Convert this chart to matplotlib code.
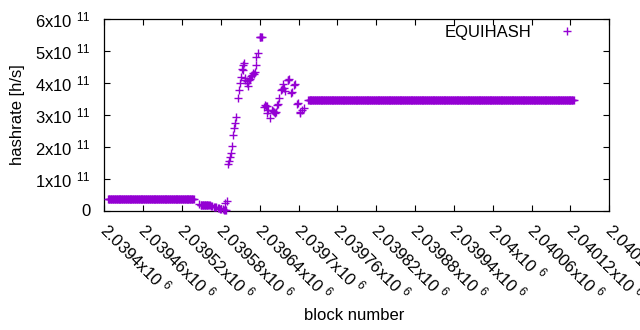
import numpy as np
import matplotlib
matplotlib.use("Agg")
import matplotlib.pyplot as plt
from matplotlib.transforms import ScaledTranslation

plt.rcParams['font.family'] = ['Liberation Sans', 'DejaVu Sans']
plt.rcParams['mathtext.fontset'] = 'custom'
plt.rcParams['mathtext.rm'] = 'Liberation Sans'
plt.rcParams['mathtext.it'] = 'Liberation Sans:italic'
plt.rcParams['mathtext.bf'] = 'Liberation Sans:bold'

# ---- data ----
# flat runs: one point per block with constant hashrate
run_start = [2039406, 2039549, 2039715]
run_end = [2039538, 2039561, 2040125]
run_value = [3.7e10, 1.8e10, 3.47e11]

# individual points
pt_block = [2039546, 2039563, 2039565, 2039567, 2039569, 2039571, 2039573,
            2039575, 2039577, 2039579, 2039581, 2039583, 2039585, 2039586,
            2039588, 2039587, 2039589,
            2039591, 2039593, 2039594, 2039596, 2039598, 2039599, 2039600,
            2039602, 2039603, 2039607, 2039608, 2039610, 2039611, 2039612,
            2039614, 2039615, 2039616, 2039617, 2039618, 2039620, 2039621,
            2039622, 2039624, 2039625, 2039627, 2039628, 2039629, 2039631,
            2039632, 2039634, 2039635, 2039637,
            2039640, 2039641, 2039642, 2039643,
            2039647, 2039648, 2039649, 2039651, 2039652, 2039653, 2039656,
            2039659, 2039660, 2039662, 2039664, 2039665, 2039667, 2039668,
            2039670, 2039673, 2039674, 2039676, 2039677, 2039679, 2039683,
            2039684, 2039685, 2039689, 2039690, 2039693, 2039694, 2039698,
            2039699, 2039702, 2039703, 2039706, 2039708]
pt_value = [2.1e10, 1.6e10, 1.5e10, 1.4e10, 1.25e10, 1.15e10, 1.0e10,
            0.9e10, 0.75e10, 0.6e10, 0.5e10, 0.35e10, 0.2e10, 0.1e10,
            0.03e10, 2.3e10, 3.0e10,
            1.46e11, 1.56e11, 1.67e11, 1.79e11, 2.02e11, 2.37e11, 2.6e11,
            2.73e11, 2.92e11, 3.52e11, 3.77e11, 4.0e11, 4.17e11, 4.43e11,
            4.4e11, 4.55e11, 4.63e11, 4.1e11, 4.15e11, 4.0e11, 4.05e11,
            3.9e11, 4.08e11, 4.12e11, 4.2e11, 4.25e11, 4.32e11, 4.27e11,
            4.34e11, 4.56e11, 4.81e11, 4.93e11,
            5.44e11, 5.45e11, 5.44e11, 5.45e11,
            3.25e11, 3.3e11, 3.28e11, 3.04e11, 3.28e11, 3.15e11, 2.9e11,
            3.15e11, 3.12e11, 3.1e11, 3.07e11, 3.08e11, 3.31e11, 3.35e11,
            3.54e11, 3.78e11, 3.8e11, 3.96e11, 3.85e11, 3.75e11, 4.1e11,
            4.08e11, 4.12e11, 3.67e11, 3.72e11, 3.94e11, 3.97e11, 3.33e11,
            3.38e11, 3.04e11, 3.1e11, 3.15e11, 3.21e11]

x_ticks = [2039400 + 60 * k for k in range(14)]
x_tick_mant = ["2.0394", "2.03946", "2.03952", "2.03958", "2.03964", "2.0397",
               "2.03976", "2.03982", "2.03988", "2.03994", "2.04", "2.04006",
               "2.04012", "2.04018"]
y_ticks = [0, 1e11, 2e11, 3e11, 4e11, 5e11, 6e11]
y_tick_mant = ["0", "1", "2", "3", "4", "5", "6"]

color = "#9400D3"
FS = 12

fig = plt.figure(figsize=(6.4, 3.3), dpi=100)
ax = fig.add_axes([104.3 / 640, 1 - 210.5 / 330, (609.3 - 104.3) / 640, (210.5 - 19) / 330])

run_x = np.concatenate([np.arange(s, e + 1) for s, e in zip(run_start, run_end)])
run_y = np.concatenate([np.full(e - s + 1, v) for s, e, v in zip(run_start, run_end, run_value)])
all_x = np.concatenate([run_x, np.array(pt_block)])
all_y = np.concatenate([run_y, np.array(pt_value)])

ax.plot(all_x, all_y, linestyle='none', marker='+', ms=6, mew=1.0,
        color=color, clip_on=False, zorder=3)

ax.set_xlim(2039400, 2040180)
ax.set_ylim(0, 6e11)

ax.set_xticks(x_ticks)
ax.set_xticklabels([m + r"x10$^{\ \,6}$" for m in x_tick_mant],
                   rotation=-45, ha='left', va='top', rotation_mode='anchor',
                   fontsize=FS)
ax.set_yticks(y_ticks)
ax.set_yticklabels([m if m == "0" else m + r"x10$^{\ \,11}$" for m in y_tick_mant],
                   fontsize=FS)

ax.tick_params(direction='in', length=4.5, width=0.8, top=True, right=True,
               colors='black')
ax.tick_params(axis='x', pad=6.5)
ax.tick_params(axis='y', pad=10)
for lab in ax.get_xticklabels():
    lab.set_transform(lab.get_transform() + ScaledTranslation(6 / 100, 0, fig.dpi_scale_trans))
for sp in ax.spines.values():
    sp.set_linewidth(0.9)

ax.set_xlabel("block number", fontsize=FS)
ax.set_ylabel("hashrate [h/s]", fontsize=FS)
ax.xaxis.set_label_coords((354 - 104.3) / 505, -(308 - 210.5) / 191.5)
ax.yaxis.set_label_coords(-(104.3 - 25) / 505, (210.5 - 115) / 191.5)

# legend (gnuplot style: text then sample)
fig.text(531.7 / 640, 1 - 32 / 330, "EQUIHASH", ha='right', va='center', fontsize=FS)
ax.plot([2039400 + (566.7 - 104.3) * 780 / 505], [(210.5 - 31) / 191.5 * 6e11],
        marker='+', ms=6, mew=1.0, color=color, linestyle='none', clip_on=False)

fig.savefig("out.png", dpi=100)
